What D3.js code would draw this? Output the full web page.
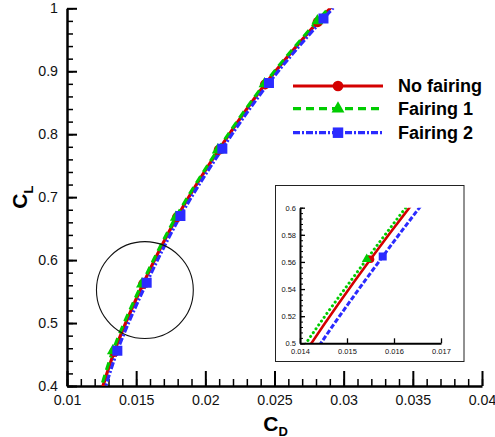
<!DOCTYPE html>
<html>
<head>
<meta charset="utf-8">
<script src="https://cdn.jsdelivr.net/npm/d3@7"></script>
<style>
  html, body { margin: 0; padding: 0; background: #fff; }
  svg { display: block; font-family: "Liberation Sans", Arial, Helvetica, sans-serif; }
</style>
</head>
<body>
<svg id="chart" width="495" height="437"></svg>
<script>
// Drag polar (C_D, C_L) for the three configurations
const seriesNames = ["No fairing", "Fairing 1", "Fairing 2"];

const clNoFairing = [0.346, 0.454, 0.562, 0.668, 0.775, 0.879, 0.978, 1.084];
const cdNoFairing = [0.01188, 0.01341, 0.01550, 0.01795, 0.02097, 0.02431, 0.02812, 0.03260];

const clFairing1 = [0.346, 0.456, 0.562, 0.668, 0.775, 0.880, 0.980, 1.086];
const cdFairing1 = [0.01180, 0.01332, 0.01542, 0.01787, 0.02090, 0.02428, 0.02810, 0.03262];

const clFairing2 = [0.348, 0.456, 0.564, 0.670, 0.777, 0.8815, 0.9836, 1.088];
const cdFairing2 = [0.01210, 0.01364, 0.01576, 0.01820, 0.02123, 0.02460, 0.02854, 0.03300];

// Axis ticks
const xMainTicks = [0.01, 0.015, 0.02, 0.025, 0.03, 0.035, 0.04];
const yMainTicks = [0.4, 0.5, 0.6, 0.7, 0.8, 0.9, 1.0];
const xInsetTicks = [0.014, 0.015, 0.016, 0.017];
const yInsetTicks = [0.5, 0.52, 0.54, 0.56, 0.58, 0.6];

// Zoom region highlighted on the main plot (centre in data units, radius in C_D units)
const zoomCircle = { cd: 0.01563, cl: 0.5524, rCd: 0.0035 };

const colors = ["#d40000", "#00cc00", "#2b2bff"];

const series = [
  { name: seriesNames[0], cl: clNoFairing, cd: cdNoFairing, color: colors[0], symbol: d3.symbolCircle },
  { name: seriesNames[1], cl: clFairing1, cd: cdFairing1, color: colors[1], symbol: d3.symbolTriangle },
  { name: seriesNames[2], cl: clFairing2, cd: cdFairing2, color: colors[2], symbol: d3.symbolSquare }
].map(s => ({ ...s, pts: s.cl.map((c, i) => ({ cl: c, cd: s.cd[i] })) }));

// line pattern per series: main plot / inset
const mainDash = [null, "8,5", "7,2,2,2"];
const insetDash = [null, "0.1,4.6", "5,2"];
const mainSym = [80, 62, 100];
const insetSym = [45, 42, 64];

const svg = d3.select("#chart");
const fmt = d3.format("~g");

// ---------- main plot ----------
const x = d3.scaleLinear().domain([0.01, 0.04]).range([67, 482]);
const y = d3.scaleLinear().domain([0.4, 1.0]).range([386, 8.3]);

const defs = svg.append("defs");
defs.append("clipPath").attr("id", "mainClip")
  .append("rect")
  .attr("x", x(0.01)).attr("y", y(1.0))
  .attr("width", x(0.04) - x(0.01)).attr("height", y(0.4) - y(1.0));

function minorTicks(lo, hi, step) {
  const out = [];
  const n = Math.round((hi - lo) / step);
  for (let i = 0; i <= n; i++) out.push(+(lo + i * step).toFixed(6));
  return out;
}

// minor ticks
svg.append("g").attr("transform", `translate(0,${y(0.4)})`)
  .call(d3.axisBottom(x).tickValues(minorTicks(0.01, 0.04, 0.001)).tickSize(-7).tickSizeOuter(0).tickFormat(""))
  .call(g => g.select(".domain").remove())
  .call(g => g.selectAll("line").attr("stroke", "#000").attr("stroke-width", 1.5));
svg.append("g").attr("transform", `translate(${x(0.01)},0)`)
  .call(d3.axisLeft(y).tickValues(minorTicks(0.4, 1.0, 0.02)).tickSize(-6).tickSizeOuter(0).tickFormat(""))
  .call(g => g.select(".domain").remove())
  .call(g => g.selectAll("line").attr("stroke", "#000").attr("stroke-width", 1.5));

// major ticks + labels
svg.append("g").attr("transform", `translate(0,${y(0.4)})`)
  .call(d3.axisBottom(x).tickValues(xMainTicks).tickSize(-15).tickSizeOuter(0).tickPadding(9).tickFormat(fmt))
  .call(g => g.select(".domain").attr("stroke", "#000").attr("stroke-width", 2.5))
  .call(g => g.selectAll("line").attr("stroke", "#000").attr("stroke-width", 2))
  .call(g => g.selectAll("text").attr("font-size", 14.2).attr("fill", "#111")
    .attr("font-family", "'Liberation Sans', Arial, sans-serif"));
svg.append("g").attr("transform", `translate(${x(0.01)},0)`)
  .call(d3.axisLeft(y).tickValues(yMainTicks).tickSize(-10).tickSizeOuter(0).tickPadding(9).tickFormat(fmt))
  .call(g => g.select(".domain").attr("stroke", "#000").attr("stroke-width", 2.5))
  .call(g => g.selectAll("line").attr("stroke", "#000").attr("stroke-width", 2))
  .call(g => g.selectAll("text").attr("font-size", 14.2).attr("fill", "#111")
    .attr("font-family", "'Liberation Sans', Arial, sans-serif"));

// axis titles
const xTitle = svg.append("text")
  .attr("x", (x(0.01) + x(0.04)) / 2 + 1).attr("y", 431)
  .attr("text-anchor", "middle").attr("font-weight", "bold").attr("font-size", 21).attr("fill", "#000");
xTitle.append("tspan").text("C");
xTitle.append("tspan").attr("font-size", 13).attr("dy", 5).text("D");

const yTitle = svg.append("text")
  .attr("transform", `translate(27,${(y(0.4) + y(1.0)) / 2}) rotate(-90)`)
  .attr("text-anchor", "middle").attr("font-weight", "bold").attr("font-size", 21).attr("fill", "#000");
yTitle.append("tspan").text("C");
yTitle.append("tspan").attr("font-size", 13).attr("dy", 6).text("L");

// curves
const mainCurves = svg.append("g").attr("clip-path", "url(#mainClip)");
series.forEach((s, i) => {
  const line = d3.line().x(d => x(d.cd)).y(d => y(d.cl)).curve(d3.curveCatmullRom.alpha(0.5));
  mainCurves.append("path").datum(s.pts)
    .attr("d", line)
    .attr("fill", "none")
    .attr("stroke", s.color)
    .attr("stroke-width", 3.2)
    .attr("stroke-dasharray", mainDash[i]);
});
series.forEach((s, i) => {
  mainCurves.append("g").selectAll("path").data(s.pts).join("path")
    .attr("transform", d => `translate(${x(d.cd)},${y(d.cl)})`)
    .attr("d", d3.symbol(s.symbol, mainSym[i]))
    .attr("fill", s.color);
});

// highlighted zoom region
svg.append("circle")
  .attr("cx", x(zoomCircle.cd)).attr("cy", y(zoomCircle.cl))
  .attr("r", x(zoomCircle.cd + zoomCircle.rCd) - x(zoomCircle.cd))
  .attr("fill", "none").attr("stroke", "#111").attr("stroke-width", 1.1);

// ---------- legend ----------
const legend = svg.append("g");
const legendY = [86, 108.7, 132.7];
series.forEach((s, i) => {
  const g = legend.append("g").attr("transform", `translate(0,${legendY[i]})`);
  g.append("line").attr("x1", 293).attr("x2", 383).attr("y1", 0).attr("y2", 0)
    .attr("stroke", s.color).attr("stroke-width", 3.2)
    .attr("stroke-dasharray", mainDash[i]);
  g.append("path").attr("transform", "translate(338,0)")
    .attr("d", d3.symbol(s.symbol, mainSym[i] + 10)).attr("fill", s.color);
  g.append("text").attr("x", 398).attr("y", 6)
    .attr("font-weight", "bold").attr("font-size", 18).attr("fill", "#000")
    .text(s.name);
});

// ---------- inset ----------
const xi = d3.scaleLinear().domain([0.014, 0.017]).range([300, 441]);
const yi = d3.scaleLinear().domain([0.5, 0.6]).range([343.3, 207.7]);

svg.append("rect")
  .attr("x", 275.5).attr("y", 185.5).attr("width", 188.5).attr("height", 176)
  .attr("fill", "#fff").attr("stroke", "#222").attr("stroke-width", 1);

defs.append("clipPath").attr("id", "insetClip")
  .append("rect")
  .attr("x", xi(0.014)).attr("y", yi(0.6))
  .attr("width", xi(0.017) - xi(0.014)).attr("height", yi(0.5) - yi(0.6));

const insetCurves = svg.append("g").attr("clip-path", "url(#insetClip)");
series.forEach((s, i) => {
  const line = d3.line().x(d => xi(d.cd)).y(d => yi(d.cl)).curve(d3.curveCatmullRom.alpha(0.5));
  insetCurves.append("path").datum(s.pts)
    .attr("d", line)
    .attr("fill", "none")
    .attr("stroke", s.color)
    .attr("stroke-width", i === 0 ? 2.6 : 3)
    .attr("stroke-linecap", i === 1 ? "round" : "butt")
    .attr("stroke-dasharray", insetDash[i]);
});
series.forEach((s, i) => {
  insetCurves.append("g").selectAll("path").data(s.pts).join("path")
    .attr("transform", d => `translate(${xi(d.cd)},${yi(d.cl)})`)
    .attr("d", d3.symbol(s.symbol, insetSym[i]))
    .attr("fill", s.color);
});

svg.append("g").attr("transform", `translate(${xi(0.014)},0)`)
  .call(d3.axisLeft(yi).tickValues(minorTicks(0.5, 0.6, 0.004)).tickSize(-3).tickSizeOuter(0).tickFormat(""))
  .call(g => g.select(".domain").remove())
  .call(g => g.selectAll("line").attr("stroke", "#000").attr("stroke-width", 1));
svg.append("g").attr("transform", `translate(0,${yi(0.5)})`)
  .call(d3.axisBottom(xi).tickValues(xInsetTicks).tickSize(-5).tickSizeOuter(0).tickPadding(5).tickFormat(fmt))
  .call(g => g.select(".domain").attr("stroke", "#000").attr("stroke-width", 2))
  .call(g => g.selectAll("line").attr("stroke", "#000").attr("stroke-width", 1.3))
  .call(g => g.selectAll("text").attr("font-size", 7.5).attr("fill", "#111")
    .attr("font-family", "'Liberation Sans', Arial, sans-serif"));
svg.append("g").attr("transform", `translate(${xi(0.014)},0)`)
  .call(d3.axisLeft(yi).tickValues(yInsetTicks).tickSize(-5).tickSizeOuter(0).tickPadding(4).tickFormat(fmt))
  .call(g => g.select(".domain").attr("stroke", "#000").attr("stroke-width", 2))
  .call(g => g.selectAll("line").attr("stroke", "#000").attr("stroke-width", 1.3))
  .call(g => g.selectAll("text").attr("font-size", 7.5).attr("fill", "#111")
    .attr("font-family", "'Liberation Sans', Arial, sans-serif"));
</script>
</body>
</html>
